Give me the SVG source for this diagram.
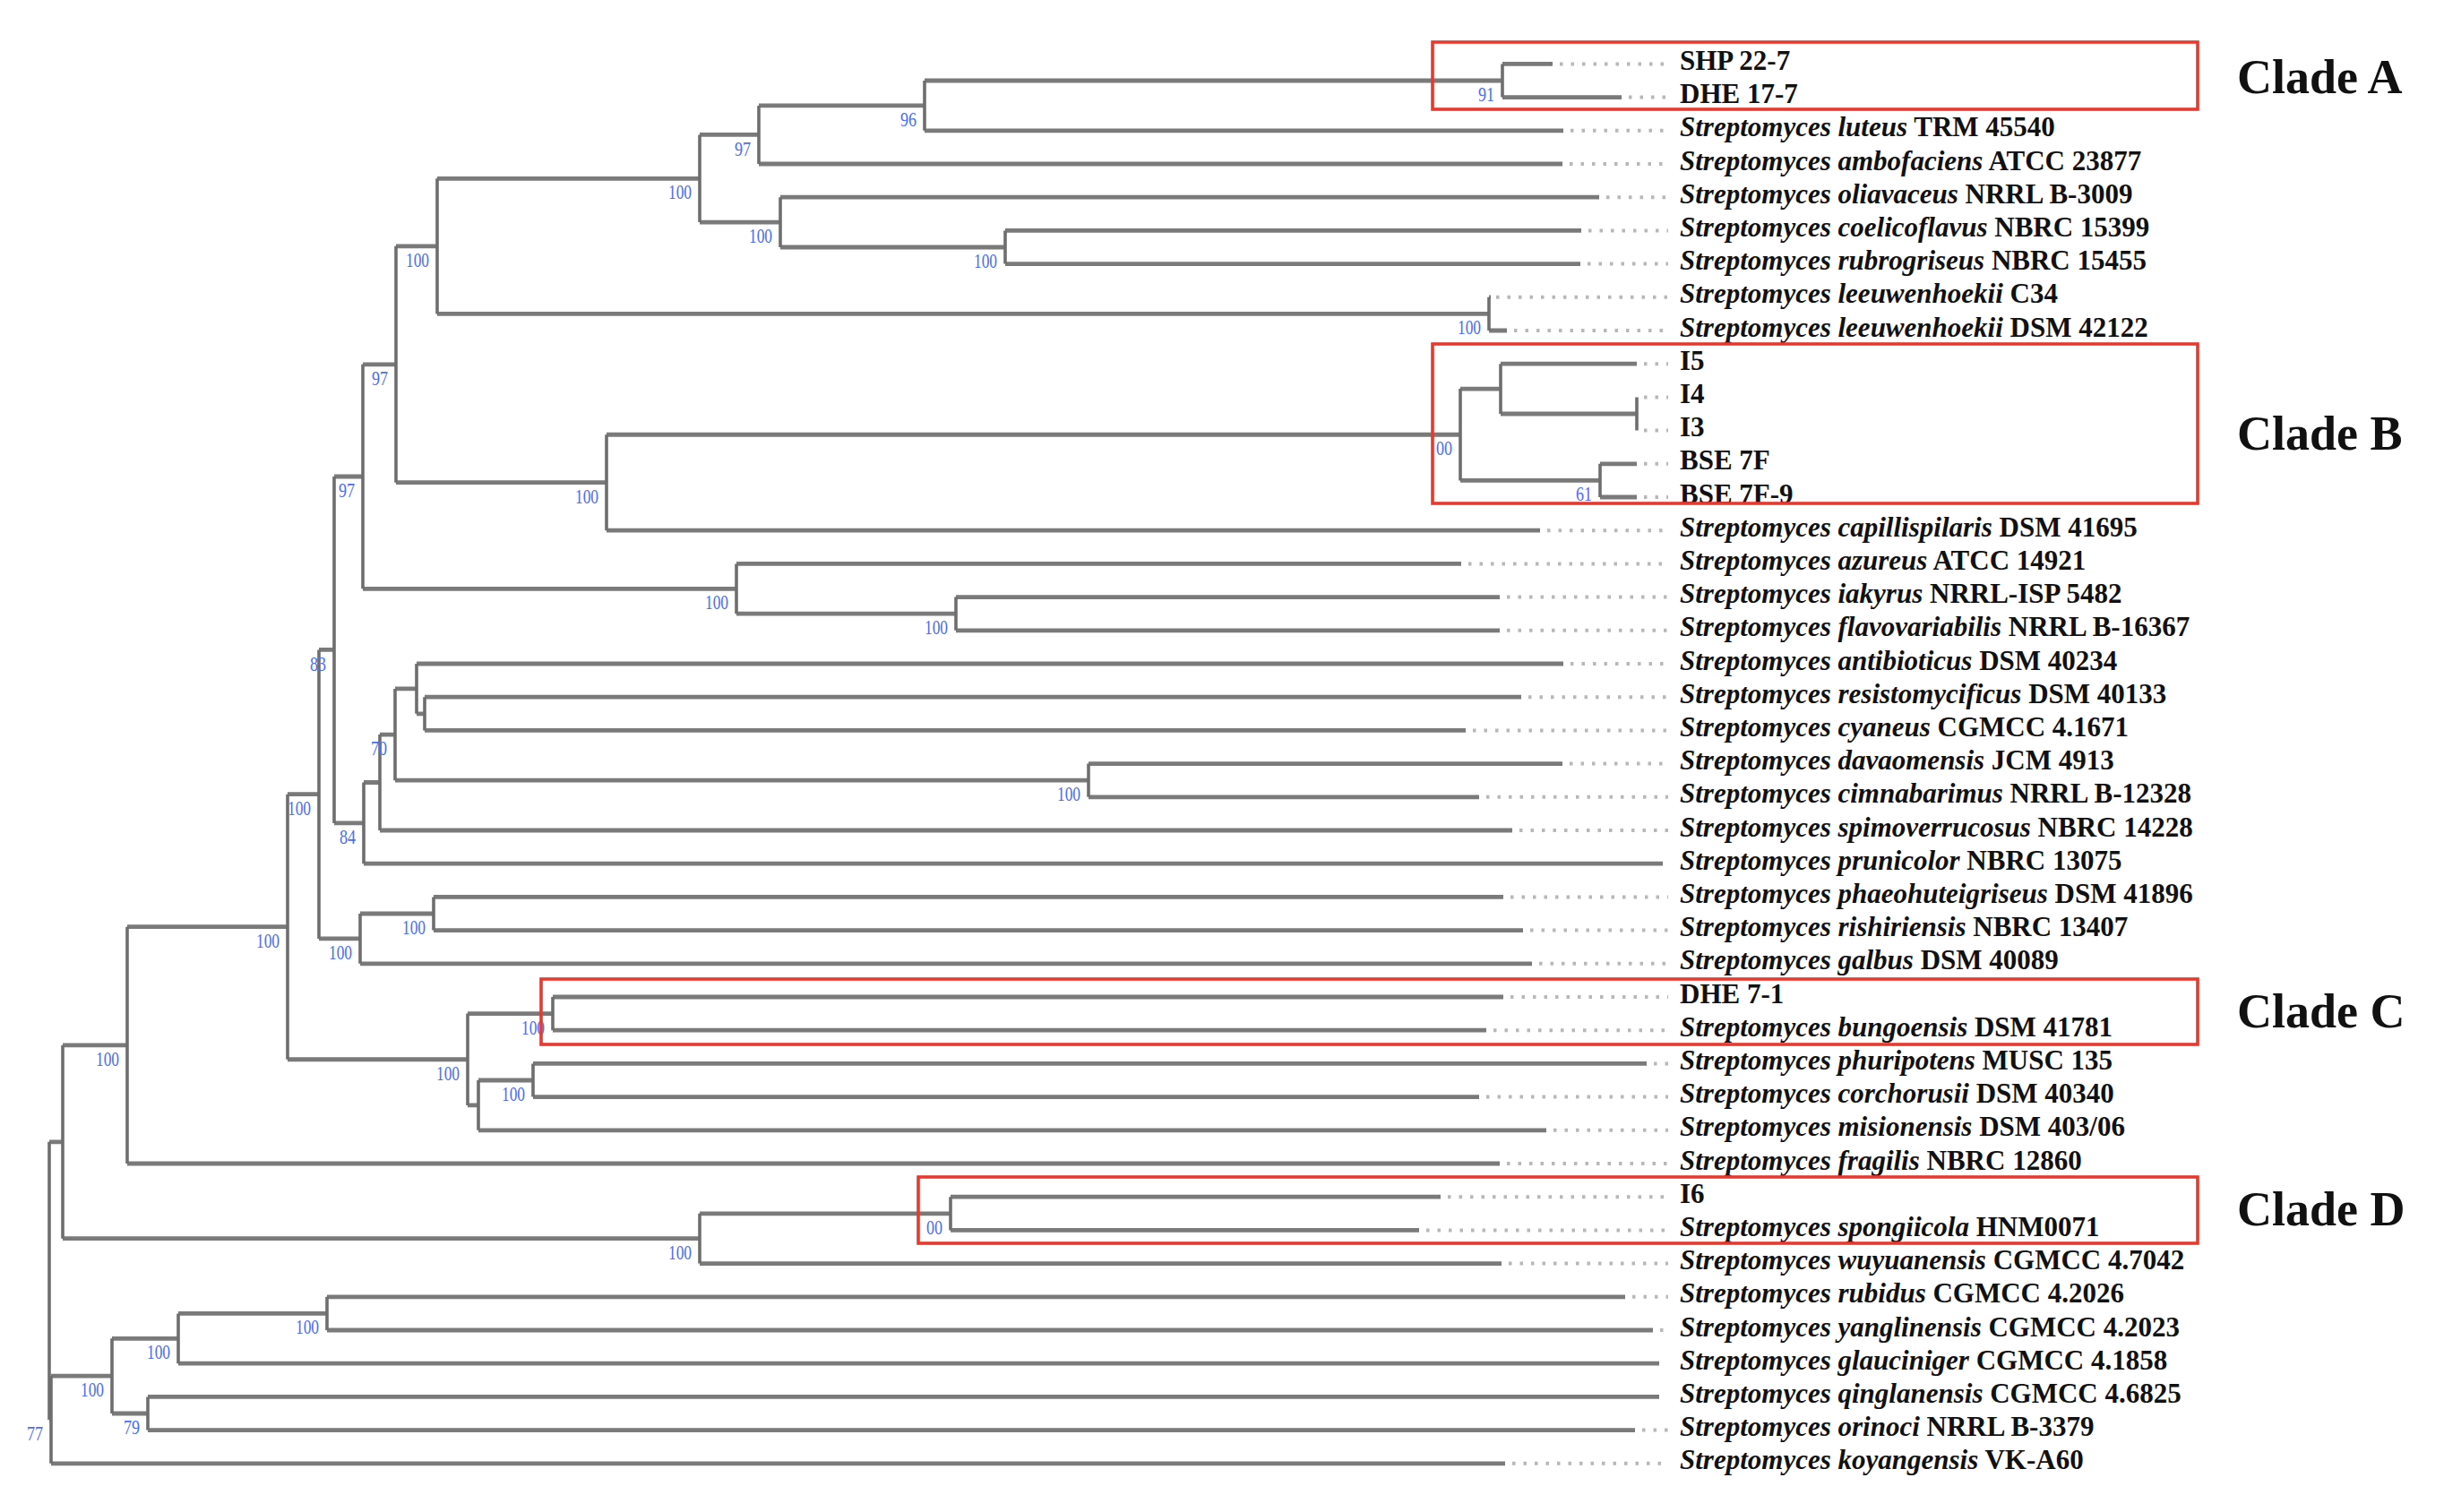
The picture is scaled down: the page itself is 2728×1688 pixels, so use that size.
<svg xmlns="http://www.w3.org/2000/svg" width="2728" height="1688" viewBox="0 0 2728 1688">
<style>
.br{fill:none;stroke:#7a7a7a;stroke-width:4.8}
.vt{fill:none;stroke:#6e6e6e;stroke-width:3.6}
.dot{fill:none;stroke:#b8b8b8;stroke-width:4;stroke-dasharray:3.5 9}
.lf{font-family:"Liberation Serif","Times New Roman",serif;font-weight:bold;font-size:31px;fill:#111}
.sp{font-style:italic}
.bs{font-family:"Liberation Serif","Times New Roman",serif;font-size:24px;fill:#4a6cf7}
.box{fill:none;stroke:#e8392f;stroke-width:3.6}
.cl{font-family:"Liberation Serif","Times New Roman",serif;font-weight:bold;font-size:54px;fill:#111}
</style>
<rect width="2728" height="1688" fill="#fff"/>
<g id="connectors">
<path class="br" d="M55 1274.8H70M55 1585H57M57 1536.15H125M57 1633.8H1680M70 1166.9H142M70 1382.7H781M142 1034.7H321M142 1299H1674M321 886.7H356M321 1182.75H522M356 725.45H373M356 1047.9H402M373 532H405M373 918.9H406M405 406.8H442M405 657.3H822M442 274.85H488M442 538.7H677M488 199.3H781M488 350.4H1662M781 150.45H847M781 248.1H871M847 117.9H1032M847 183H1744M1032 90H1677M1032 145.8H1745M1677 71.4H1733M1677 108.6H1810M871 220.2H1785M871 276H1122M1122 257.4H1765M1122 294.6H1764M1662 331.8H1664M1662 369H1682M677 485.25H1630M677 592.2H1719M1630 434.1H1675M1630 536.4H1786M1675 406.2H1827M1675 462H1827M1786 517.8H1827M1786 555H1827M822 629.4H1631M822 685.2H1067M1067 666.6H1674M1067 703.8H1674M406 873.5H424M406 964.2H1856M424 820.05H441M424 927H1688M441 768.9H465M441 871.2H1215M465 741H1745M465 796.8H474M474 778.2H1698M474 815.4H1636M1215 852.6H1744M1215 889.8H1651M402 1020H484M402 1075.8H1710M484 1001.4H1678M484 1038.6H1700M522 1131.6H617M522 1233.9H534M617 1113H1678M617 1150.2H1659M534 1206H595M534 1261.8H1726M595 1187.4H1838M595 1224.6H1651M781 1354.8H1061M781 1410.6H1676M1061 1336.2H1608M1061 1373.4H1584M125 1494.3H199M125 1578H165M199 1466.4H365M199 1522.2H1852M365 1447.8H1814M365 1485H1845M165 1559.4H1852M165 1596.6H1825"/>
<path class="vt" d="M55 1274.8V1585M57 1536.15V1633.8M70 1166.9V1382.7M142 1034.7V1299M321 886.7V1182.75M356 725.45V1047.9M373 532V918.9M405 406.8V657.3M442 274.85V538.7M488 199.3V350.4M781 150.45V248.1M847 117.9V183M1032 90V145.8M1677 71.4V108.6M871 220.2V276M1122 257.4V294.6M1662 331.8V369M677 485.25V592.2M1630 434.1V536.4M1675 406.2V462M1827 443.4V480.6M1786 517.8V555M822 629.4V685.2M1067 666.6V703.8M406 873.5V964.2M424 820.05V927M441 768.9V871.2M465 741V796.8M474 778.2V815.4M1215 852.6V889.8M402 1020V1075.8M484 1001.4V1038.6M522 1131.6V1233.9M617 1113V1150.2M534 1206V1261.8M595 1187.4V1224.6M781 1354.8V1410.6M1061 1336.2V1373.4M125 1494.3V1578M199 1466.4V1522.2M365 1447.8V1485M165 1559.4V1596.6"/>
<path class="dot" d="M1741 71.4H1862M1818 108.6H1862M1753 145.8H1862M1752 183H1862M1793 220.2H1862M1773 257.4H1862M1772 294.6H1862M1670 331.8H1862M1690 369H1862M1835 406.2H1862M1835 443.4H1862M1835 480.6H1862M1835 517.8H1862M1835 555H1862M1727 592.2H1862M1639 629.4H1862M1682 666.6H1862M1682 703.8H1862M1753 741H1862M1706 778.2H1862M1644 815.4H1862M1752 852.6H1862M1659 889.8H1862M1696 927H1862M1686 1001.4H1862M1708 1038.6H1862M1718 1075.8H1862M1686 1113H1862M1667 1150.2H1862M1846 1187.4H1862M1659 1224.6H1862M1734 1261.8H1862M1682 1299H1862M1616 1336.2H1862M1592 1373.4H1862M1684 1410.6H1862M1822 1447.8H1862M1853 1485H1862M1833 1596.6H1862M1688 1633.8H1862"/>
</g>
<g id="bootstrap">
<g id="n1677"><text class="bs" x="1650" y="113" textLength="18" lengthAdjust="spacingAndGlyphs">91</text></g>
<g id="n1032"><text class="bs" x="1005" y="141" textLength="18" lengthAdjust="spacingAndGlyphs">96</text></g>
<g id="n847"><text class="bs" x="820" y="173.5" textLength="18" lengthAdjust="spacingAndGlyphs">97</text></g>
<g id="n781"><text class="bs" x="746" y="222.3" textLength="26" lengthAdjust="spacingAndGlyphs">100</text></g>
<g id="n871"><text class="bs" x="836" y="271" textLength="26" lengthAdjust="spacingAndGlyphs">100</text></g>
<g id="n1122"><text class="bs" x="1087" y="299" textLength="26" lengthAdjust="spacingAndGlyphs">100</text></g>
<g id="n1662"><text class="bs" x="1627" y="373.4" textLength="26" lengthAdjust="spacingAndGlyphs">100</text></g>
<g id="n488"><text class="bs" x="453" y="298" textLength="26" lengthAdjust="spacingAndGlyphs">100</text></g>
<g id="n677"><text class="bs" x="642" y="561.7" textLength="26" lengthAdjust="spacingAndGlyphs">100</text></g>
<g id="n1630"><text class="bs" x="1603" y="508" textLength="18" lengthAdjust="spacingAndGlyphs">00</text></g>
<g id="n1786"><text class="bs" x="1759" y="559.4" textLength="18" lengthAdjust="spacingAndGlyphs">61</text></g>
<g id="n442"><text class="bs" x="415" y="430" textLength="18" lengthAdjust="spacingAndGlyphs">97</text></g>
<g id="n405"><text class="bs" x="378" y="555" textLength="18" lengthAdjust="spacingAndGlyphs">97</text></g>
<g id="n822"><text class="bs" x="787" y="680.3" textLength="26" lengthAdjust="spacingAndGlyphs">100</text></g>
<g id="n1067"><text class="bs" x="1032" y="708.2" textLength="26" lengthAdjust="spacingAndGlyphs">100</text></g>
<g id="n373"><text class="bs" x="346" y="748.5" textLength="18" lengthAdjust="spacingAndGlyphs">83</text></g>
<g id="n441"><text class="bs" x="414" y="843" textLength="18" lengthAdjust="spacingAndGlyphs">70</text></g>
<g id="n1215"><text class="bs" x="1180" y="894.2" textLength="26" lengthAdjust="spacingAndGlyphs">100</text></g>
<g id="n406"><text class="bs" x="379" y="942" textLength="18" lengthAdjust="spacingAndGlyphs">84</text></g>
<g id="n356"><text class="bs" x="321" y="909.7" textLength="26" lengthAdjust="spacingAndGlyphs">100</text></g>
<g id="n484"><text class="bs" x="449" y="1043" textLength="26" lengthAdjust="spacingAndGlyphs">100</text></g>
<g id="n402"><text class="bs" x="367" y="1071" textLength="26" lengthAdjust="spacingAndGlyphs">100</text></g>
<g id="n321"><text class="bs" x="286" y="1057.7" textLength="26" lengthAdjust="spacingAndGlyphs">100</text></g>
<g id="n617"><text class="bs" x="582" y="1154.6" textLength="26" lengthAdjust="spacingAndGlyphs">100</text></g>
<g id="n522"><text class="bs" x="487" y="1205.8" textLength="26" lengthAdjust="spacingAndGlyphs">100</text></g>
<g id="n595"><text class="bs" x="560" y="1229" textLength="26" lengthAdjust="spacingAndGlyphs">100</text></g>
<g id="n142"><text class="bs" x="107" y="1190" textLength="26" lengthAdjust="spacingAndGlyphs">100</text></g>
<g id="n781b"><text class="bs" x="746" y="1405.7" textLength="26" lengthAdjust="spacingAndGlyphs">100</text></g>
<g id="n1061"><text class="bs" x="1034" y="1377.8" textLength="18" lengthAdjust="spacingAndGlyphs">00</text></g>
<g id="n125"><text class="bs" x="90" y="1559" textLength="26" lengthAdjust="spacingAndGlyphs">100</text></g>
<g id="n199"><text class="bs" x="164" y="1517.3" textLength="26" lengthAdjust="spacingAndGlyphs">100</text></g>
<g id="n365"><text class="bs" x="330" y="1489.4" textLength="26" lengthAdjust="spacingAndGlyphs">100</text></g>
<g id="n165"><text class="bs" x="138" y="1601" textLength="18" lengthAdjust="spacingAndGlyphs">79</text></g>
<g id="n58"><text class="bs" x="30" y="1608" textLength="18" lengthAdjust="spacingAndGlyphs">77</text></g>
</g>
<g id="leaves">
<g id="leaf0"><text class="lf" x="1875" y="77.9">SHP 22-7</text></g>
<g id="leaf1"><text class="lf" x="1875" y="115.1">DHE 17-7</text></g>
<g id="leaf2"><text class="lf" x="1875" y="152.3"><tspan class="sp">Streptomyces luteus</tspan> TRM 45540</text></g>
<g id="leaf3"><text class="lf" x="1875" y="189.5"><tspan class="sp">Streptomyces ambofaciens</tspan> ATCC 23877</text></g>
<g id="leaf4"><text class="lf" x="1875" y="226.7"><tspan class="sp">Streptomyces oliavaceus</tspan> NRRL B-3009</text></g>
<g id="leaf5"><text class="lf" x="1875" y="263.9"><tspan class="sp">Streptomyces coelicoflavus</tspan> NBRC 15399</text></g>
<g id="leaf6"><text class="lf" x="1875" y="301.1"><tspan class="sp">Streptomyces rubrogriseus</tspan> NBRC 15455</text></g>
<g id="leaf7"><text class="lf" x="1875" y="338.3"><tspan class="sp">Streptomyces leeuwenhoekii</tspan> C34</text></g>
<g id="leaf8"><text class="lf" x="1875" y="375.5"><tspan class="sp">Streptomyces leeuwenhoekii</tspan> DSM 42122</text></g>
<g id="leaf9"><text class="lf" x="1875" y="412.7">I5</text></g>
<g id="leaf10"><text class="lf" x="1875" y="449.9">I4</text></g>
<g id="leaf11"><text class="lf" x="1875" y="487.1">I3</text></g>
<g id="leaf12"><text class="lf" x="1875" y="524.3">BSE 7F</text></g>
<g id="leaf13"><text class="lf" x="1875" y="561.5">BSE 7F-9</text></g>
<g id="leaf14"><text class="lf" x="1875" y="598.7"><tspan class="sp">Streptomyces capillispilaris</tspan> DSM 41695</text></g>
<g id="leaf15"><text class="lf" x="1875" y="635.9"><tspan class="sp">Streptomyces azureus</tspan> ATCC 14921</text></g>
<g id="leaf16"><text class="lf" x="1875" y="673.1"><tspan class="sp">Streptomyces iakyrus</tspan> NRRL-ISP 5482</text></g>
<g id="leaf17"><text class="lf" x="1875" y="710.3"><tspan class="sp">Streptomyces flavovariabilis</tspan> NRRL B-16367</text></g>
<g id="leaf18"><text class="lf" x="1875" y="747.5"><tspan class="sp">Streptomyces antibioticus</tspan> DSM 40234</text></g>
<g id="leaf19"><text class="lf" x="1875" y="784.7"><tspan class="sp">Streptomyces resistomycificus</tspan> DSM 40133</text></g>
<g id="leaf20"><text class="lf" x="1875" y="821.9"><tspan class="sp">Streptomyces cyaneus</tspan> CGMCC 4.1671</text></g>
<g id="leaf21"><text class="lf" x="1875" y="859.1"><tspan class="sp">Streptomyces davaomensis</tspan> JCM 4913</text></g>
<g id="leaf22"><text class="lf" x="1875" y="896.3"><tspan class="sp">Streptomyces cimnabarimus</tspan> NRRL B-12328</text></g>
<g id="leaf23"><text class="lf" x="1875" y="933.5"><tspan class="sp">Streptomyces spimoverrucosus</tspan> NBRC 14228</text></g>
<g id="leaf24"><text class="lf" x="1875" y="970.7"><tspan class="sp">Streptomyces prunicolor</tspan> NBRC 13075</text></g>
<g id="leaf25"><text class="lf" x="1875" y="1007.9"><tspan class="sp">Streptomyces phaeohuteigriseus</tspan> DSM 41896</text></g>
<g id="leaf26"><text class="lf" x="1875" y="1045.1"><tspan class="sp">Streptomyces rishiriensis</tspan> NBRC 13407</text></g>
<g id="leaf27"><text class="lf" x="1875" y="1082.3"><tspan class="sp">Streptomyces galbus</tspan> DSM 40089</text></g>
<g id="leaf28"><text class="lf" x="1875" y="1119.5">DHE 7-1</text></g>
<g id="leaf29"><text class="lf" x="1875" y="1156.7"><tspan class="sp">Streptomyces bungoensis</tspan> DSM 41781</text></g>
<g id="leaf30"><text class="lf" x="1875" y="1193.9"><tspan class="sp">Streptomyces phuripotens</tspan> MUSC 135</text></g>
<g id="leaf31"><text class="lf" x="1875" y="1231.1"><tspan class="sp">Streptomyces corchorusii</tspan> DSM 40340</text></g>
<g id="leaf32"><text class="lf" x="1875" y="1268.3"><tspan class="sp">Streptomyces misionensis</tspan> DSM 403/06</text></g>
<g id="leaf33"><text class="lf" x="1875" y="1305.5"><tspan class="sp">Streptomyces fragilis</tspan> NBRC 12860</text></g>
<g id="leaf34"><text class="lf" x="1875" y="1342.7">I6</text></g>
<g id="leaf35"><text class="lf" x="1875" y="1379.9"><tspan class="sp">Streptomyces spongiicola</tspan> HNM0071</text></g>
<g id="leaf36"><text class="lf" x="1875" y="1417.1"><tspan class="sp">Streptomyces wuyuanensis</tspan> CGMCC 4.7042</text></g>
<g id="leaf37"><text class="lf" x="1875" y="1454.3"><tspan class="sp">Streptomyces rubidus</tspan> CGMCC 4.2026</text></g>
<g id="leaf38"><text class="lf" x="1875" y="1491.5"><tspan class="sp">Streptomyces yanglinensis</tspan> CGMCC 4.2023</text></g>
<g id="leaf39"><text class="lf" x="1875" y="1528.7"><tspan class="sp">Streptomyces glauciniger</tspan> CGMCC 4.1858</text></g>
<g id="leaf40"><text class="lf" x="1875" y="1565.9"><tspan class="sp">Streptomyces qinglanensis</tspan> CGMCC 4.6825</text></g>
<g id="leaf41"><text class="lf" x="1875" y="1603.1"><tspan class="sp">Streptomyces orinoci</tspan> NRRL B-3379</text></g>
<g id="leaf42"><text class="lf" x="1875" y="1640.3"><tspan class="sp">Streptomyces koyangensis</tspan> VK-A60</text></g>
</g>
<g id="cladeA"><rect class="box" x="1599" y="47" width="854" height="75"/><text class="cl" x="2497" y="103.6">Clade A</text></g>
<g id="cladeB"><rect class="box" x="1599" y="384" width="854" height="178"/><text class="cl" x="2497" y="502">Clade B</text></g>
<g id="cladeC"><rect class="box" x="604" y="1093" width="1849" height="73"/><text class="cl" x="2497" y="1147">Clade C</text></g>
<g id="cladeD"><rect class="box" x="1025" y="1314" width="1428" height="74"/><text class="cl" x="2497" y="1368">Clade D</text></g>
</svg>
